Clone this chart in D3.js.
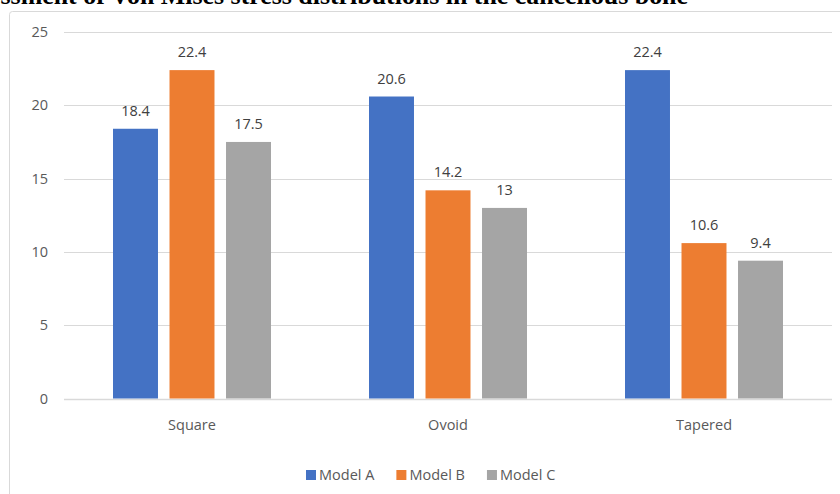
<!DOCTYPE html>
<html>
<head>
<meta charset="utf-8">
<script src="https://cdn.jsdelivr.net/npm/d3@7"></script>
<style>
  html, body { margin: 0; padding: 0; background: #fff; }
  svg { display: block; }
</style>
</head>
<body>
<svg id="chart" width="840" height="494"></svg>
<script>
const title = "Assessment of Von Mises stress distributions in the cancellous bone";
const categories = ["Square", "Ovoid", "Tapered"];
const seriesNames = ["Model A", "Model B", "Model C"];
const modelA = [18.4, 20.6, 22.4];
const modelB = [22.4, 14.2, 10.6];
const modelC = [17.5, 13, 9.4];
const yTicks = [0, 5, 10, 15, 20, 25];
const colors = ["#4472C4", "#ED7D31", "#A5A5A5"];

const seriesValues = [modelA, modelB, modelC];
const data = categories.map((c, i) => ({
  category: c,
  values: seriesNames.map((s, j) => ({ series: s, value: seriesValues[j][i], color: colors[j] }))
}));

const svg = d3.select("#chart");
const font = "'Open Sans', sans-serif";
const textColor = "#595959";

// Title (cut off at top and left, as in the reference)
const titleText = svg.append("text")
  .attr("x", 688).attr("y", 4)
  .attr("text-anchor", "end")
  .attr("font-family", "'Liberation Serif', 'Times New Roman', serif")
  .attr("font-weight", "bold")
  .attr("font-size", 20)
  .attr("fill", "#000")
  .text(title);
// scale so that the visible part ("ssment ... bone") spans from the left edge to x=688
{
  const full = titleText.node().getComputedTextLength();
  const n = titleText.node();
  const prefixW = n.getSubStringLength(0, 4);
  const rest = full - prefixW;
  const fs = 20 * 688 / rest;
  titleText.attr("font-size", fs);
}

// Chart frame
svg.append("rect")
  .attr("x", 9.5).attr("y", 11.5)
  .attr("width", 900).attr("height", 600)
  .attr("rx", 3)
  .attr("fill", "none")
  .attr("stroke", "#d9d9d9")
  .attr("stroke-width", 1);

const plotLeft = 64, plotRight = 832;
const y = d3.scaleLinear().domain([0, 25]).range([398.5, 32]);
const x0 = d3.scaleBand().domain(categories).range([plotLeft, plotRight]).padding(0);
const groupW = 158;
const x1 = d3.scaleBand().domain(seriesNames)
  .range([(x0.bandwidth() - groupW) / 2, (x0.bandwidth() + groupW) / 2])
  .paddingInner(0.204).paddingOuter(0);

// Gridlines
svg.append("g").selectAll("line").data(yTicks).join("line")
  .attr("x1", plotLeft).attr("x2", plotRight)
  .attr("y1", d => Math.round(y(d)) + 0.5).attr("y2", d => Math.round(y(d)) + 0.5)
  .attr("stroke", "#d9d9d9").attr("stroke-width", d => d === 0 ? 1.5 : 1);

// Y axis labels
const yAxis = d3.axisLeft(y).tickValues(yTicks).tickSize(0).tickPadding(0);
const gy = svg.append("g").attr("transform", `translate(48,0)`).call(yAxis);
gy.select(".domain").remove();
gy.selectAll("text")
  .attr("font-family", font).attr("font-size", 14.5).attr("fill", textColor);

// Bars
const groups = svg.append("g").selectAll("g").data(data).join("g")
  .attr("transform", d => `translate(${x0(d.category)},0)`);

groups.selectAll("rect").data(d => d.values).join("rect")
  .attr("x", d => x1(d.series))
  .attr("width", x1.bandwidth())
  .attr("y", d => y(d.value))
  .attr("height", d => y(0) - y(d.value))
  .attr("fill", d => d.color);

groups.selectAll("text.val").data(d => d.values).join("text")
  .attr("class", "val")
  .attr("x", d => x1(d.series) + x1.bandwidth() / 2)
  .attr("y", d => y(d.value) - 13)
  .attr("text-anchor", "middle")
  .attr("font-family", font).attr("font-size", 14.5).attr("fill", "#404040")
  .text(d => d.value);

// X axis labels
const xAxis = d3.axisBottom(x0).tickSize(0).tickPadding(0);
const gx = svg.append("g").attr("transform", `translate(0,430)`).call(xAxis);
gx.select(".domain").remove();
gx.selectAll("text")
  .attr("dy", 0)
  .attr("font-family", font).attr("font-size", 14.5).attr("fill", textColor);

// Legend
const legend = svg.append("g");
let lx = 306;
seriesNames.forEach((s, i) => {
  legend.append("rect")
    .attr("x", lx).attr("y", 470).attr("width", 10).attr("height", 10)
    .attr("fill", colors[i]);
  const t = legend.append("text")
    .attr("x", lx + 13).attr("y", 480)
    .attr("font-family", font).attr("font-size", 14.5).attr("fill", textColor)
    .text(s);
  lx += 13 + t.node().getComputedTextLength() + 22;
});
</script>
</body>
</html>
